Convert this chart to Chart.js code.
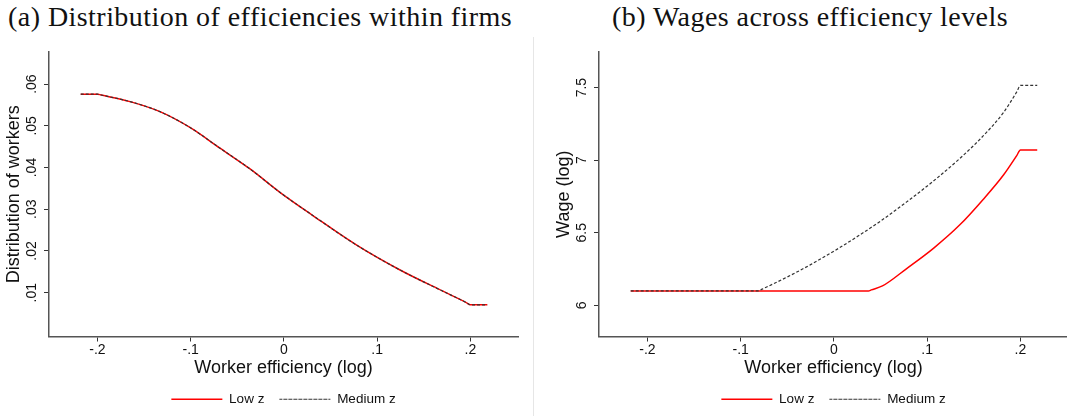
<!DOCTYPE html>
<html>
<head>
<meta charset="utf-8">
<script src="https://cdn.jsdelivr.net/npm/chart.js@4.4.1/dist/chart.umd.min.js"></script>
<style>
    html, body { margin: 0; padding: 0; background: #fff; }
    body { width: 1067px; height: 416px; overflow: hidden; position: relative; }
    .panel { position: absolute; top: 0; width: 533px; height: 416px; }
    .title { position: absolute; top: 3px; font-family: "Liberation Serif", serif; font-size: 28px; line-height: 28px; letter-spacing: 0.45px; color: #111; white-space: nowrap; }
    .sep { position: absolute; left: 533px; top: 37px; width: 1px; height: 379px; background: #e6e6e6; }
</style>
</head>
<body>
<div class="title" style="left:8px">(a) Distribution of efficiencies within firms</div>
<div class="title" style="left:612px">(b) Wages across efficiency levels</div>
<div class="sep"></div>
<div class="panel" style="left:0"><canvas id="distChart" width="533" height="416"></canvas></div>
<div class="panel" style="left:550px"><canvas id="wageChart" width="533" height="416"></canvas></div>
<script>
// osie
const xTicks = [-0.2, -0.1, 0, 0.1, 0.2];
const xTickLabels = ["-.2", "-.1", "0", ".1", ".2"];
const distTicks = [0.01, 0.02, 0.03, 0.04, 0.05, 0.06];
const distTickLabels = [".01", ".02", ".03", ".04", ".05", ".06"];
const wageTicks = [6, 6.5, 7, 7.5];
const wageTickLabels = ["6", "6.5", "7", "7.5"];
const seriesNames = ["Low z", "Medium z"];

// (a) rozkład efektywności
const distX = [-0.218, -0.2, -0.196, -0.165, -0.133, -0.1, -0.069, -0.036, -0.004, 0.031, 0.078, 0.124, 0.171, 0.195, 0.2, 0.218];
const distLow = [0.0576, 0.0576, 0.0574, 0.0558, 0.0534, 0.0495, 0.0447, 0.0396, 0.0340, 0.0285, 0.0214, 0.0155, 0.0103, 0.0077, 0.0071, 0.0071];
const distMed = [0.0576, 0.0576, 0.0574, 0.0558, 0.0534, 0.0495, 0.0447, 0.0396, 0.0340, 0.0285, 0.0214, 0.0155, 0.0103, 0.0077, 0.0071, 0.0071];

// (b) płace
const wageLowX = [-0.218, 0.037, 0.04, 0.052, 0.078, 0.107, 0.135, 0.160, 0.182, 0.196, 0.2, 0.218];
const wageLow = [6.1, 6.1, 6.107, 6.134, 6.254, 6.395, 6.555, 6.73, 6.90, 7.032, 7.071, 7.071];
const wageMedX = [-0.218, -0.081, -0.077, -0.05, -0.025, 0, 0.025, 0.05, 0.078, 0.107, 0.135, 0.160, 0.182, 0.196, 0.2, 0.218];
const wageMed = [6.1, 6.1, 6.112, 6.196, 6.281, 6.374, 6.474, 6.581, 6.713, 6.858, 7.012, 7.167, 7.33, 7.47, 7.515, 7.515];

const sans = "'Liberation Sans', Arial, sans-serif";
const ink = "#111";

function pts(xs, ys) {
    return xs.map((x, i) => ({ x: x, y: ys[i] }));
}

function makeChart(canvas, lowData, medData, yTitle, yMin, yMax, yTicks, yLabels) {
    return new Chart(canvas, {
        type: "line",
        data: {
            datasets: [
                {
                    label: seriesNames[0],
                    data: lowData,
                    borderColor: "#ff0000",
                    backgroundColor: "#ff0000",
                    borderWidth: 1.5,
                    pointRadius: 0,
                    cubicInterpolationMode: "monotone",
                    order: 1,
                },
                {
                    label: seriesNames[1],
                    data: medData,
                    borderColor: "#333",
                    backgroundColor: "#333",
                    borderWidth: 1.2,
                    borderDash: [3, 2],
                    pointRadius: 0,
                    cubicInterpolationMode: "monotone",
                    order: 0,
                },
            ],
        },
        options: {
            responsive: false,
            animation: false,
            events: [],
            layout: { padding: { top: 52, right: 15, bottom: 0, left: 0 } },
            scales: {
                x: {
                    type: "linear",
                    min: -0.252,
                    max: 0.251,
                    afterBuildTicks: (s) => { s.ticks = xTicks.map((v) => ({ value: v })); },
                    ticks: {
                        callback: (v, i) => xTickLabels[i],
                        color: ink,
                        padding: 2,
                        font: { family: sans, size: 14, lineHeight: 1 },
                        maxRotation: 0,
                    },
                    grid: { drawOnChartArea: false, drawTicks: true, tickLength: 5, tickColor: "#333", tickWidth: 1 },
                    border: { color: "#555", width: 1.5 },
                    title: {
                        display: true,
                        text: "Worker efficiency (log)",
                        color: ink,
                        font: { family: sans, size: 18, lineHeight: 1 },
                        padding: { top: 0, bottom: 0 },
                    },
                },
                y: {
                    type: "linear",
                    min: yMin,
                    max: yMax,
                    afterBuildTicks: (s) => { s.ticks = yTicks.map((v) => ({ value: v })); },
                    afterFit: (s) => { s.width = 49; },
                    ticks: {
                        callback: (v, i) => yLabels[i],
                        color: ink,
                        padding: 2,
                        minRotation: 90,
                        maxRotation: 90,
                        crossAlign: "center",
                        font: { family: sans, size: 14, lineHeight: 1 },
                    },
                    grid: { drawOnChartArea: false, drawTicks: true, tickLength: 5, tickColor: "#333", tickWidth: 1 },
                    border: { color: "#555", width: 1.5 },
                    title: {
                        display: true,
                        text: yTitle,
                        color: ink,
                        font: { family: sans, size: 18, lineHeight: 1 },
                        padding: { top: 5, bottom: 0 },
                    },
                },
            },
            plugins: {
                legend: {
                    position: "bottom",
                    fullSize: false,
                    labels: {
                        color: ink,
                        boxWidth: 51,
                        boxHeight: 0,
                        padding: 15,
                        font: { family: sans, size: 13.5, lineHeight: 1 },
                        sort: (a, b) => a.datasetIndex - b.datasetIndex,
                    },
                },
                tooltip: { enabled: false },
            },
        },
    });
}

makeChart(document.getElementById("distChart"),
    pts(distX, distLow), pts(distX, distMed),
    "Distribution of workers", -0.0005, 0.0677, distTicks, distTickLabels);

makeChart(document.getElementById("wageChart"),
    pts(wageLowX, wageLow), pts(wageMedX, wageMed),
    "Wage (log)", 5.786, 7.745, wageTicks, wageTickLabels);
</script>
</body>
</html>
